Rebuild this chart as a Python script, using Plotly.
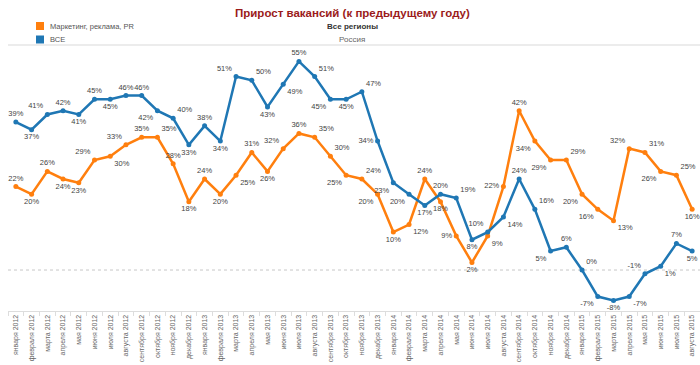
import plotly.graph_objects as go

months = ["января", "февраля", "марта", "апреля", "мая", "июня", "июля",
          "августа", "сентября", "октября", "ноября", "декабря"]
categories = [f"{m} {y}" for y in (2012, 2013, 2014) for m in months] + \
             [f"{m} 2015" for m in months[:8]]

marketing = [22, 20, 26, 24, 23, 29, 30, 33, 35, 35, 28, 18,
             24, 20, 25, 31, 26, 32, 36, 35, 30, 25, 24, 20,
             10, 12, 24, 18, 9, 2, 9, 22, 42, 34, 29, 29,
             20, 16, 13, 32, 31, 26, 25, 16]
all_vac = [39, 37, 41, 42, 41, 45, 45, 46, 46, 42, 40, 33,
           38, 34, 51, 50, 43, 49, 55, 51, 45, 45, 47, 34,
           23, 20, 17, 20, 19, 8, 10, 14, 24, 16, 5, 6,
           0, -7, -8, -7, -1, 1, 7, 5]

series_names = ["Маркетинг, реклама, PR", "ВСЕ"]

# label placement (style only)
pos_marketing = ["top center", "bottom center", "top center", "bottom center", "bottom center",
                 "top left", "bottom right", "top left", "top center", "top right", "top center",
                 "bottom center", "top center", "bottom center", "bottom right", "top center",
                 "bottom center", "top left", "top center", "top right", "top right", "bottom left",
                 "top right", "bottom left", "bottom center", "bottom right", "top center",
                 "bottom center", "middle left", "bottom center", "bottom right", "middle left",
                 "top center", "bottom left", "bottom left", "top right", "bottom left",
                 "bottom left", "bottom right", "top left", "top right", "bottom left",
                 "top right", "bottom center"]
pos_all = ["top center", "bottom center", "top left", "top center", "bottom center",
           "top center", "bottom center", "top center", "top center", "bottom left",
           "top right", "bottom center", "top center", "bottom center", "top left",
           "top right", "bottom center", "bottom right", "top center", "top right",
           "bottom left", "bottom center", "top right", "middle left", "bottom left",
           "bottom left", "bottom center", "top center", "top right", "bottom center",
           "top left", "bottom right", "top center", "top right", "bottom left",
           "top center", "top right", "bottom left", "bottom center", "bottom right",
           "top left", "bottom right", "top center", "bottom center"]

ORANGE = "#ff7f0e"
BLUE = "#1f77b4"
FONT = "Liberation Sans"

fig = go.Figure()
for vals, pos, col in ((marketing, pos_marketing, ORANGE), (all_vac, pos_all, BLUE)):
    fig.add_trace(go.Scatter(
        x=categories, y=vals, mode="lines+markers+text",
        text=[f"{v}%" for v in vals], textposition=pos,
        textfont=dict(family=FONT, size=7.5, color="#444"),
        line=dict(color=col, width=2.5), marker=dict(color=col, size=5),
        showlegend=False, cliponaxis=False, hoverinfo="x+y"))

# legend drawn as squares + labels (pixel -> paper: x=(px-8)/692, y=1+(50-py)/261)
def px(x):
    return (x - 8) / 692

def py(y):
    return 1 + (50 - y) / 261

for i, (name, col) in enumerate(zip(series_names, (ORANGE, BLUE))):
    cy = 26 + 13.5 * i
    fig.add_shape(type="rect", xref="paper", yref="paper",
                  x0=px(36), x1=px(44), y0=py(cy + 4), y1=py(cy - 4),
                  fillcolor=col, line=dict(width=0))
    fig.add_annotation(text=name, xref="paper", yref="paper", x=px(48), y=py(cy),
                       xanchor="left", yanchor="middle", showarrow=False,
                       font=dict(family=FONT, size=7.5, color="#555"))

fig.add_shape(type="line", xref="paper", yref="y", x0=0, x1=1, y0=0, y1=0,
              line=dict(color="#c8c8c8", width=1, dash="dot"), layer="below")
fig.add_shape(type="line", xref="paper", yref="paper", x0=0, x1=1, y0=py(45), y1=py(45),
              line=dict(color="#e6e6e6", width=1.5))

fig.add_annotation(text="Прирост вакансий (к предыдущему году)", xref="paper", yref="paper",
                   x=px(352), y=py(13), showarrow=False, yanchor="middle",
                   font=dict(family=FONT, size=11.5, color="#9b1b1b", weight="bold"))
fig.add_annotation(text="Все регионы", xref="paper", yref="paper", x=px(352), y=py(27),
                   showarrow=False, yanchor="middle",
                   font=dict(family=FONT, size=8, color="#333", weight="bold"))
fig.add_annotation(text="Россия", xref="paper", yref="paper", x=px(352), y=py(40),
                   showarrow=False, yanchor="middle",
                   font=dict(family=FONT, size=8, color="#666"))

fig.update_layout(
    width=700, height=365,
    margin=dict(l=8, r=0, t=50, b=54, autoexpand=False),
    paper_bgcolor="white", plot_bgcolor="white",
    font=dict(family=FONT),
    showlegend=False,
    hovermode=False,
    xaxis=dict(type="category", tickangle=-90, tickfont=dict(family=FONT, size=7, color="#666"),
               showgrid=False, showline=True, linecolor="#dddddd", linewidth=1,
               ticks="outside", tickson="boundaries", ticklen=4, tickcolor="#dddddd",
               range=[-0.5, len(categories) - 0.5], automargin=False, fixedrange=True),
    yaxis=dict(range=[-10.8, 58], visible=False, showgrid=False, zeroline=False,
               automargin=False, fixedrange=True),
)

fig.write_html("out.html", config={"displayModeBar": False, "staticPlot": True},
               post_script="document.body.style.margin='0';document.body.style.overflow='hidden';")
